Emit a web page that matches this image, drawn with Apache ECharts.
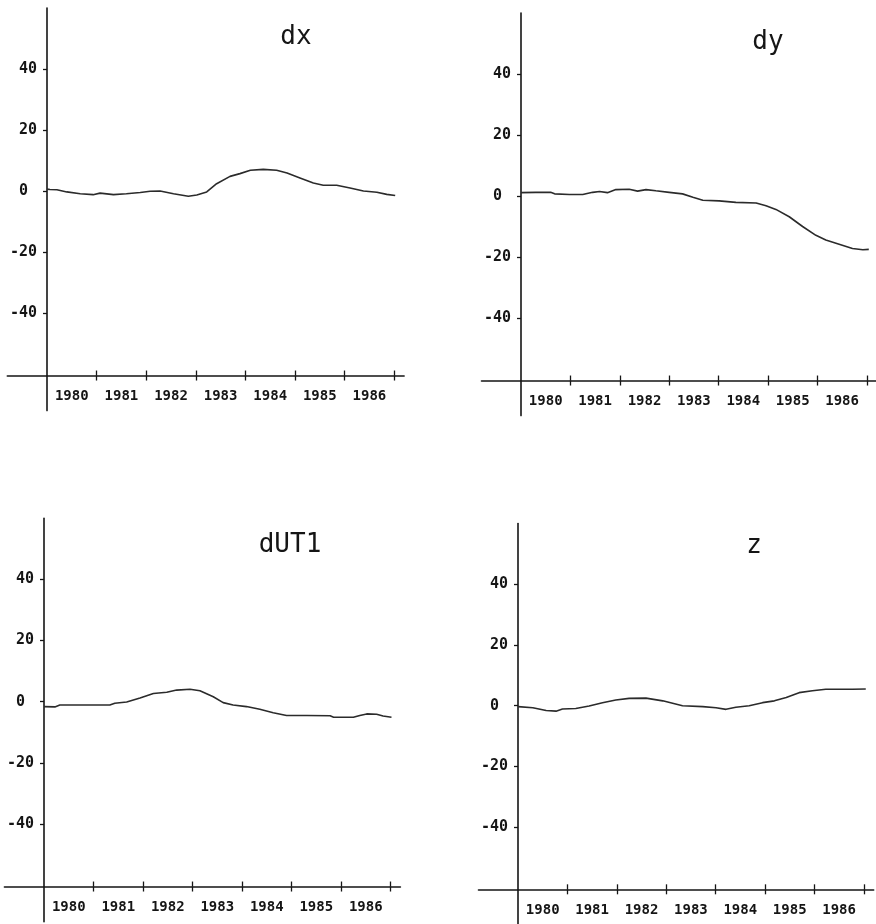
<!DOCTYPE html>
<html><head><meta charset="utf-8">
<script src="https://cdn.jsdelivr.net/npm/echarts@6/dist/echarts.min.js"></script>
<style>html,body{margin:0;padding:0;background:#fff}#c{width:876px;height:924px}</style>
</head><body><div id="c"></div>
<script>
// ---- data ----
const yearLabels = ['1980','1981','1982','1983','1984','1985','1986'];
const yTickValues = [-40, -20, 0, 20, 40];
const titles = ['dx', 'dy', 'dUT1', 'z'];

const dxYears = [1980.0,1980.06,1980.2,1980.4,1980.67,1980.93,1981.07,1981.34,1981.6,1981.88,1982.08,1982.28,1982.55,1982.85,1983.02,1983.22,1983.42,1983.69,1983.89,1984.1,1984.36,1984.63,1984.84,1985.1,1985.37,1985.57,1985.84,1986.11,1986.38,1986.65,1986.85,1987.02];
const dxValues = [0.6,0.5,0.4,-0.3,-0.9,-1.2,-0.7,-1.2,-0.9,-0.5,-0.1,0.0,-0.9,-1.7,-1.3,-0.3,2.4,4.8,5.7,6.8,7.1,6.8,5.9,4.3,2.6,1.9,1.9,1.0,0.0,-0.4,-1.1,-1.5];

const dyYears = [1980.0,1980.3,1980.6,1980.68,1980.98,1981.25,1981.45,1981.59,1981.75,1981.92,1982.19,1982.36,1982.53,1982.73,1983.0,1983.27,1983.48,1983.68,1984.01,1984.35,1984.76,1984.96,1985.16,1985.43,1985.7,1985.97,1986.17,1986.44,1986.71,1986.92,1987.04];
const dyValues = [1.1,1.2,1.2,0.7,0.5,0.5,1.2,1.5,1.1,2.1,2.2,1.6,2.1,1.7,1.2,0.7,-0.4,-1.4,-1.6,-2.1,-2.3,-3.2,-4.4,-6.8,-10.0,-12.9,-14.4,-15.8,-17.2,-17.6,-17.5];

const dut1Years = [1980.0,1980.22,1980.32,1980.79,1981.33,1981.43,1981.67,1981.94,1982.21,1982.48,1982.68,1982.95,1983.15,1983.42,1983.62,1983.82,1984.09,1984.36,1984.63,1984.9,1985.31,1985.78,1985.85,1986.25,1986.38,1986.52,1986.72,1986.85,1987.02];
const dut1Values = [-1.6,-1.7,-1.1,-1.1,-1.1,-0.5,-0.1,1.2,2.7,3.1,3.8,4.1,3.6,1.6,-0.3,-1.1,-1.6,-2.5,-3.6,-4.5,-4.5,-4.6,-5.1,-5.1,-4.5,-4.0,-4.1,-4.7,-5.1];

const zYears = [1980.0,1980.3,1980.57,1980.77,1980.9,1981.17,1981.44,1981.71,1981.98,1982.25,1982.59,1982.93,1983.33,1983.74,1984.01,1984.21,1984.41,1984.68,1984.95,1985.19,1985.43,1985.69,1985.96,1986.23,1986.44,1986.77,1987.04];
const zValues = [-0.3,-0.7,-1.6,-1.8,-1.1,-0.9,-0.1,1.0,1.9,2.4,2.5,1.6,0.0,-0.3,-0.7,-1.2,-0.5,0.0,1.0,1.6,2.7,4.3,4.9,5.4,5.4,5.4,5.5];

const seriesYears = [dxYears, dyYears, dut1Years, zYears];
const seriesValues = [dxValues, dyValues, dut1Values, zValues];

// ---- layout (pixel placement of each panel) ----
const X_MIN = 1979.2, X_MAX = 1987.2, ORIGIN_YEAR = 1980;
const Y_MIN = -72, Y_MAX = 60, X_CROSS = -60.5;
const panels = [
  {x0: 47,  pxYr: 49.6, y0: 191,   pxU: 3.05,  tx: 296, ty: 24},
  {x0: 521, pxYr: 49.4, y0: 196,   pxU: 3.05,  tx: 768, ty: 29},
  {x0: 44,  pxYr: 49.5, y0: 701.7, pxU: 3.055, tx: 290, ty: 532},
  {x0: 518, pxYr: 49.4, y0: 705.7, pxU: 3.035, tx: 754, ty: 533}
];

const FONT = 'DejaVu Sans Mono';
const INK = '#151515';
const grids = [], xAxes = [], yAxes = [], series = [], titleOpts = [];
const tickYears = yearLabels.map(y => +y + 1);
const labelYears = yearLabels.map(y => +y + 0.5);

panels.forEach((p, i) => {
  const top = p.y0 - Y_MAX * p.pxU;
  // inner grid: data, labels, outward ticks (axes sit on grid edges)
  const gIn = grids.length;
  grids.push({
    left: p.x0, width: (X_MAX - ORIGIN_YEAR) * p.pxYr,
    top: top, height: (Y_MAX - X_CROSS) * p.pxU,
    containLabel: false, outerBoundsMode: 'none'
  });
  // outer grid: full axis lines that cross each other
  const gOut = grids.length;
  grids.push({
    left: p.x0 - (ORIGIN_YEAR - X_MIN) * p.pxYr, width: (X_MAX - X_MIN) * p.pxYr,
    top: top, height: (Y_MAX - Y_MIN) * p.pxU,
    containLabel: false, outerBoundsMode: 'none'
  });

  const xIn = xAxes.length;
  xAxes.push({
    type: 'value', gridIndex: gIn, position: 'bottom', min: ORIGIN_YEAR, max: X_MAX,
    axisLine: {show: false, onZero: false},
    axisTick: {show: true, length: 5, customValues: tickYears, lineStyle: {color: INK, width: 1.3}},
    axisLabel: {show: true, margin: 14, customValues: labelYears,
      formatter: v => yearLabels[Math.round(v - ORIGIN_YEAR - 0.5)] || '',
      fontFamily: FONT, fontSize: 14, fontWeight: 'bold', color: INK},
    splitLine: {show: false}
  });
  const yIn = yAxes.length;
  yAxes.push({
    type: 'value', gridIndex: gIn, position: 'left', min: X_CROSS, max: Y_MAX,
    axisLine: {show: false, onZero: false},
    axisTick: {show: true, length: 4, customValues: yTickValues, lineStyle: {color: INK, width: 1.3}},
    axisLabel: {show: true, margin: 10, customValues: yTickValues,
      formatter: v => v === 0 ? '0 ' : String(v),
      fontFamily: FONT, fontSize: 15, fontWeight: 'bold', color: INK},
    splitLine: {show: false}
  });

  const xOut = xAxes.length, xHelp = xOut + 1, yOut = yAxes.length, yHelp = yOut + 1;
  xAxes.push({
    type: 'value', gridIndex: gOut, position: 'bottom', min: X_MIN, max: X_MAX,
    axisLine: {show: true, onZero: true, onZeroAxisIndex: yHelp, lineStyle: {color: INK, width: 1.6}},
    axisTick: {show: true, inside: true, length: 5, customValues: tickYears, lineStyle: {color: INK, width: 1.3}},
    axisLabel: {show: false}, splitLine: {show: false}
  });
  xAxes.push({
    type: 'value', gridIndex: gOut, position: 'top', show: false,
    min: X_MIN - ORIGIN_YEAR, max: X_MAX - ORIGIN_YEAR,
    axisLine: {onZero: false}, splitLine: {show: false}
  });
  yAxes.push({
    type: 'value', gridIndex: gOut, position: 'left', min: Y_MIN, max: Y_MAX,
    axisLine: {show: true, onZero: true, onZeroAxisIndex: xHelp, lineStyle: {color: INK, width: 1.6}},
    axisTick: {show: false}, axisLabel: {show: false}, splitLine: {show: false}
  });
  yAxes.push({
    type: 'value', gridIndex: gOut, position: 'right', show: false,
    min: Y_MIN - X_CROSS, max: Y_MAX - X_CROSS,
    axisLine: {onZero: false}, splitLine: {show: false}
  });

  series.push({
    type: 'line', xAxisIndex: xIn, yAxisIndex: yIn, showSymbol: false, symbol: 'none',
    lineStyle: {color: '#2b2b2b', width: 1.6}, silent: true,
    data: seriesYears[i].map((x, k) => [x, seriesValues[i][k]])
  });
  titleOpts.push({
    text: titles[i], left: p.tx - titles[i].length * 26 * 0.602 / 2, top: p.ty, padding: 0,
    textStyle: {fontFamily: FONT, fontSize: 26, fontWeight: 'normal', color: INK}
  });
});

const chart = echarts.init(document.getElementById('c'), null, {renderer: 'canvas'});
chart.setOption({
  animation: false,
  backgroundColor: '#ffffff',
  title: titleOpts,
  grid: grids,
  xAxis: xAxes,
  yAxis: yAxes,
  series: series
});
</script>
</body></html>
